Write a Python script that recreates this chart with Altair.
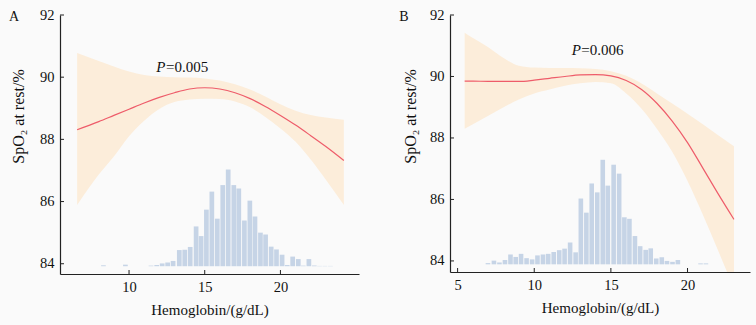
import altair as alt
import pandas as pd

FONT = "Liberation Serif"
AXC = "#222222"
BAND = "#fcedda"
LINE = "#ee5c6a"
BAR = "#c6d4e6"

# ---------------- Panel A ----------------
a_hist_x = [8.31, 9.76, 11.45, 11.83, 12.19, 12.55, 12.91, 13.32, 13.68, 14.04, 14.43, 14.76,
            15.11, 15.47, 15.83, 16.19, 16.55, 16.92, 17.25, 17.62, 17.98, 18.32, 18.68, 19.02,
            19.39, 19.74, 20.11, 20.45, 20.81, 21.18, 21.51, 21.88, 22.24, 22.58, 22.94, 23.30]
a_hist_top = [83.95, 83.97, 83.94, 83.96, 84.01, 84.04, 84.09, 84.44, 84.45, 84.54, 85.20, 84.89,
              85.74, 86.32, 85.45, 86.53, 87.03, 86.53, 86.42, 85.39, 86.03, 85.52, 85.00, 84.94,
              84.55, 84.46, 84.29, 83.96, 84.23, 84.15, 83.94, 84.15, 83.94, 83.93, 83.93, 83.93]
a_hist_base = 83.92

a_curve_x = [6.57, 8.0, 9.0, 10.0, 11.0, 12.0, 13.0, 14.0, 15.0, 16.0, 17.0, 18.0, 19.0, 20.0,
             21.0, 22.0, 23.0, 24.19]
a_fit = [88.31, 88.57, 88.77, 88.97, 89.17, 89.35, 89.50, 89.62, 89.66, 89.62, 89.50, 89.31,
         89.06, 88.77, 88.46, 88.12, 87.77, 87.32]
a_upper = [90.78, 90.52, 90.34, 90.18, 90.07, 90.02, 90.00, 89.99, 89.96, 89.89, 89.77, 89.60,
           89.38, 89.13, 88.92, 88.78, 88.70, 88.63]
a_lower = [85.89, 86.87, 87.45, 88.10, 88.60, 88.98, 89.20, 89.28, 89.31, 89.30, 89.22, 89.03,
           88.72, 88.35, 87.92, 87.35, 86.70, 85.89]

# ---------------- Panel B ----------------
b_hist_x = [6.98, 7.37, 7.73, 8.09, 8.45, 8.79, 9.14, 9.50, 9.86, 10.21, 10.57, 10.91, 11.27,
            11.63, 11.98, 12.34, 12.70, 13.04, 13.40, 13.75, 14.11, 14.47, 14.80, 15.18, 15.54,
            15.88, 16.21, 16.57, 16.91, 17.27, 17.60, 17.96, 18.32, 18.66, 19.02, 19.37, 20.85, 21.20]
b_hist_top = [83.93, 84.01, 83.95, 84.03, 84.21, 84.13, 84.23, 84.09, 84.05, 84.18, 84.21, 84.23,
              84.29, 84.35, 84.40, 84.60, 84.28, 86.03, 85.57, 86.52, 86.23, 87.29, 86.45, 87.13,
              86.84, 85.42, 85.37, 84.81, 84.48, 84.36, 84.41, 84.08, 84.12, 84.00, 83.97, 84.03,
              83.92, 83.92]
b_hist_base = 83.89

b_curve_x = [5.46, 6.0, 7.0, 8.0, 9.0, 10.0, 11.0, 12.0, 13.0, 14.0, 15.0, 16.0, 17.0, 18.0,
             19.0, 20.0, 21.0, 22.0, 23.03]
b_fit = [89.85, 89.85, 89.84, 89.84, 89.84, 89.88, 89.94, 90.00, 90.05, 90.06, 90.02, 89.87,
         89.58, 89.13, 88.55, 87.85, 87.02, 86.18, 85.35]
b_upper = [91.42, 91.25, 90.95, 90.60, 90.35, 90.29, 90.28, 90.28, 90.27, 90.24, 90.17, 90.02,
           89.77, 89.45, 89.12, 88.79, 88.45, 88.09, 87.73]
b_lower = [88.30, 88.45, 88.72, 89.00, 89.25, 89.45, 89.58, 89.70, 89.78, 89.82, 89.78, 89.45,
           88.95, 88.30, 87.55, 86.60, 85.50, 84.33, 83.10]

y_ticks = [84, 86, 88, 90, 92]
a_x_ticks = [10, 15, 20]
b_x_ticks = [5, 10, 15, 20]

X_TITLE = "Hemoglobin/(g/dL)"
Y_TITLE = "SpO₂ at rest/%"


def panel(hx, htop, hbase, cx, fit, up, lo, xdom, ydom, xticks, W, H,
          ptext, px, py, letter, bar_size, ytitle_x, ytitle_y):
    xs = alt.Scale(domain=xdom, nice=False, zero=False)
    ys = alt.Scale(domain=ydom, nice=False, zero=False)
    xax = alt.Axis(values=xticks, title=X_TITLE, ticks=False, grid=False,
                   labelPadding=6, titlePadding=9, format="d", titleFontSize=15)
    yax = alt.Axis(values=y_ticks, title=Y_TITLE, ticks=False, grid=False,
                   labelPadding=6, titleX=ytitle_x, titleY=ytitle_y, titleFontSize=16,
                   titleAngle=270, titleBaseline="middle", titleAlign="center", format="d")
    X = lambda f: alt.X(f, type="quantitative", scale=xs, axis=xax)
    Y = lambda f: alt.Y(f, type="quantitative", scale=ys, axis=yax)

    curve = pd.DataFrame({"x": cx, "fit": fit, "up": up, "lo": lo})
    hist = pd.DataFrame({"x": hx, "top": htop, "base": [hbase] * len(hx)})

    band = alt.Chart(curve).mark_area(color=BAND, opacity=1, clip=True,
                                      interpolate="monotone").encode(
        x=X("x"), y=Y("up"), y2="lo")
    bars = alt.Chart(hist).mark_bar(color=BAR, size=bar_size, clip=True).encode(
        x=X("x"), y=Y("top"), y2="base")
    line = alt.Chart(curve).mark_line(color=LINE, strokeWidth=1.2, clip=True,
                                      interpolate="monotone").encode(
        x=X("x"), y=Y("fit"))
    tdf = pd.DataFrame({"x": [px], "y": [py], "p": ["P"], "rest": [ptext]})
    t_p = alt.Chart(tdf).mark_text(font=FONT, fontSize=15, fontStyle="italic",
                                   align="right", baseline="middle", color="#111").encode(
        x=X("x"), y=Y("y"), text="p:N")
    t_rest = alt.Chart(tdf).mark_text(font=FONT, fontSize=15, align="left",
                                      baseline="middle", color="#111", dx=0.5).encode(
        x=X("x"), y=Y("y"), text="rest:N")
    xt = alt.Chart(pd.DataFrame({"t": xticks})).mark_rule(color=AXC, strokeWidth=1).encode(
        x=X("t"), y=alt.value(H), y2=alt.value(H - 4))
    yt = alt.Chart(pd.DataFrame({"t": y_ticks})).mark_rule(color=AXC, strokeWidth=1).encode(
        y=Y("t"), x=alt.value(0), x2=alt.value(4))
    lab = alt.Chart(pd.DataFrame({"l": [letter]})).mark_text(
        font=FONT, fontSize=14, align="center", baseline="middle", color="#111").encode(
        x=alt.value(-46), y=alt.value(2), text="l:N")
    return alt.layer(band, bars, line, t_p, t_rest, xt, yt, lab).properties(width=W, height=H)


left = panel(a_hist_x, a_hist_top, a_hist_base, a_curve_x, a_fit, a_upper, a_lower,
             [5.77, 24.86], [83.67, 92], a_x_ticks, 299, 259,
             "=0.005", 12.41, 90.34, "A", 4.7, -42, 101)
right = panel(b_hist_x, b_hist_top, b_hist_base, b_curve_x, b_fit, b_upper, b_lower,
              [4.83, 23.75], [83.64, 92], b_x_ticks, 300, 257,
              "=0.006", 13.04, 90.85, "B", 4.6, -40, 101)

chart = alt.hconcat(left, right, spacing=91, bounds="flush").properties(
    background="#fafafa",
    padding={"left": 8, "top": 7, "right": 6, "bottom": 8},
).configure_view(stroke=None).configure_axis(
    labelFont=FONT, titleFont=FONT, labelFontSize=14.5,
    labelColor="#111", titleColor="#111", titleFontWeight="normal",
    domainColor=AXC, domainWidth=1.2,
)

chart.save("out.html", embed_options={"renderer": "svg", "actions": False})
